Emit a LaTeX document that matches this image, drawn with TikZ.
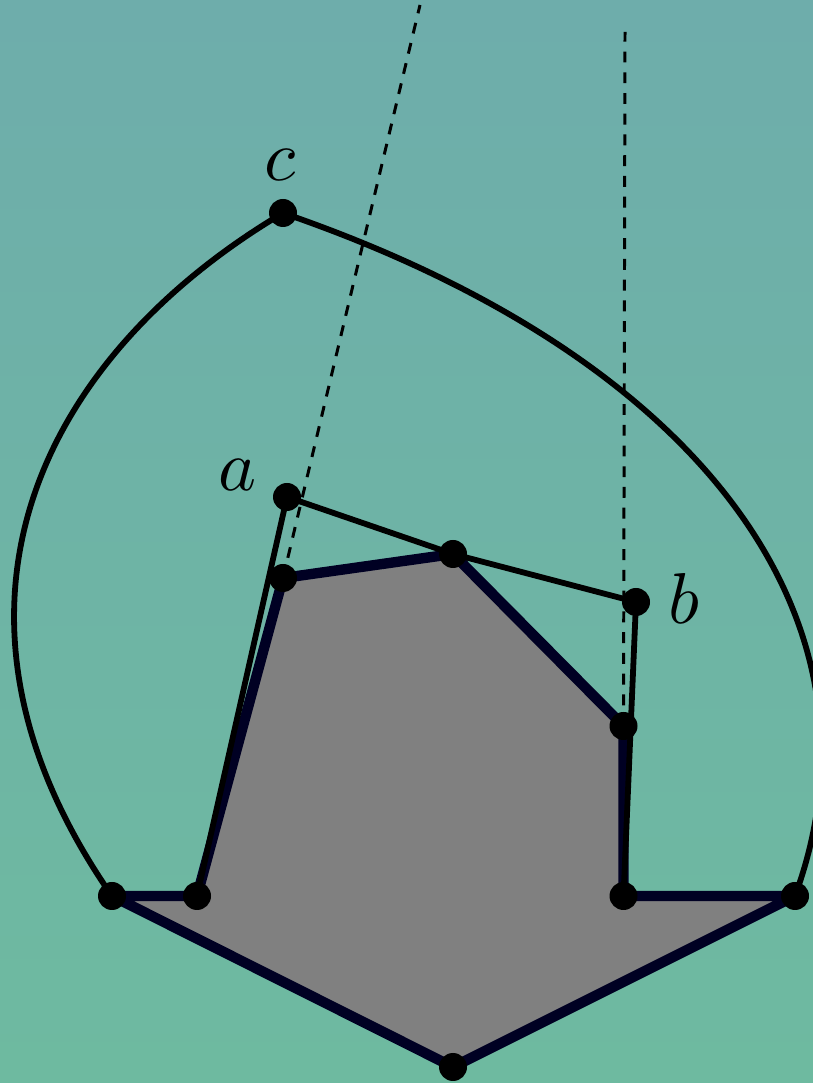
\documentclass[tikz,border=0pt]{standalone}
\usepackage{amsmath,amssymb}
\usetikzlibrary{arrows.meta,calc,positioning}

\definecolor{bgtop}{RGB}{110,173,171}
\definecolor{bgbot}{RGB}{110,186,160}
\definecolor{rim}{RGB}{0,0,35}

\begin{document}
\begin{tikzpicture}[
every node/.style={circle, fill=black, inner sep=0pt, minimum size=5.6mm},
edge/.style={line width=3.3pt},
hull/.style={line width=5.9pt, draw=rim, fill=gray, line join=round},
ray/.style={line width=1.7pt, dash pattern=on 6.2pt off 5.6pt}]
\useasboundingbox (0,0) rectangle (16.26,21.66);
\shade[top color=bgtop, bottom color=bgbot] (0,0) rectangle (16.26,21.66);
\coordinate (P1) at (2.24,3.74);
\coordinate (P2) at (3.94,3.74);
\coordinate (P3) at (5.66,10.10);
\coordinate (P4) at (9.06,10.58);
\coordinate (P5) at (12.47,7.14);
\coordinate (P6) at (12.47,3.74);
\coordinate (P7) at (15.90,3.74);
\coordinate (P8) at (9.06,0.32);
\coordinate (A) at (5.74,11.72);
\coordinate (B) at (12.72,9.62);
\coordinate (C) at (5.66,17.40);
\coordinate (R1) at (8.40,21.56);
\coordinate (R2) at (12.50,21.02);
\draw[hull] (P1)--(P2)--(P3)--(P4)--(P5)--(P6)--(P7)--(P8)--cycle;
\draw[edge] (P2)--(A)--(P4)--(B)--(P6);
\draw[edge] (P1) .. controls (-1.75,9.48) and (0.84,14.54) .. (C);
\draw[edge] (C) .. controls (14.10,14.50) and (17.90,9.20) .. (P7);
\draw[ray] (P3)--(R1);
\draw[ray] (P5)--(R2);
\foreach \p in {P1,P2,P3,P4,P5,P6,P7,P8,A,B,C}
  \node (d\p) at (\p) {};
\node[style={fill=none}] at (4.76,12.16) {\scalebox{4.1}{$a$}};
\node[style={fill=none}] at (13.68,9.70) {\scalebox{4.1}{$b$}};
\node[style={fill=none}] at (5.60,18.36) {\scalebox{4.1}{$c$}};
\end{tikzpicture}
\end{document}
